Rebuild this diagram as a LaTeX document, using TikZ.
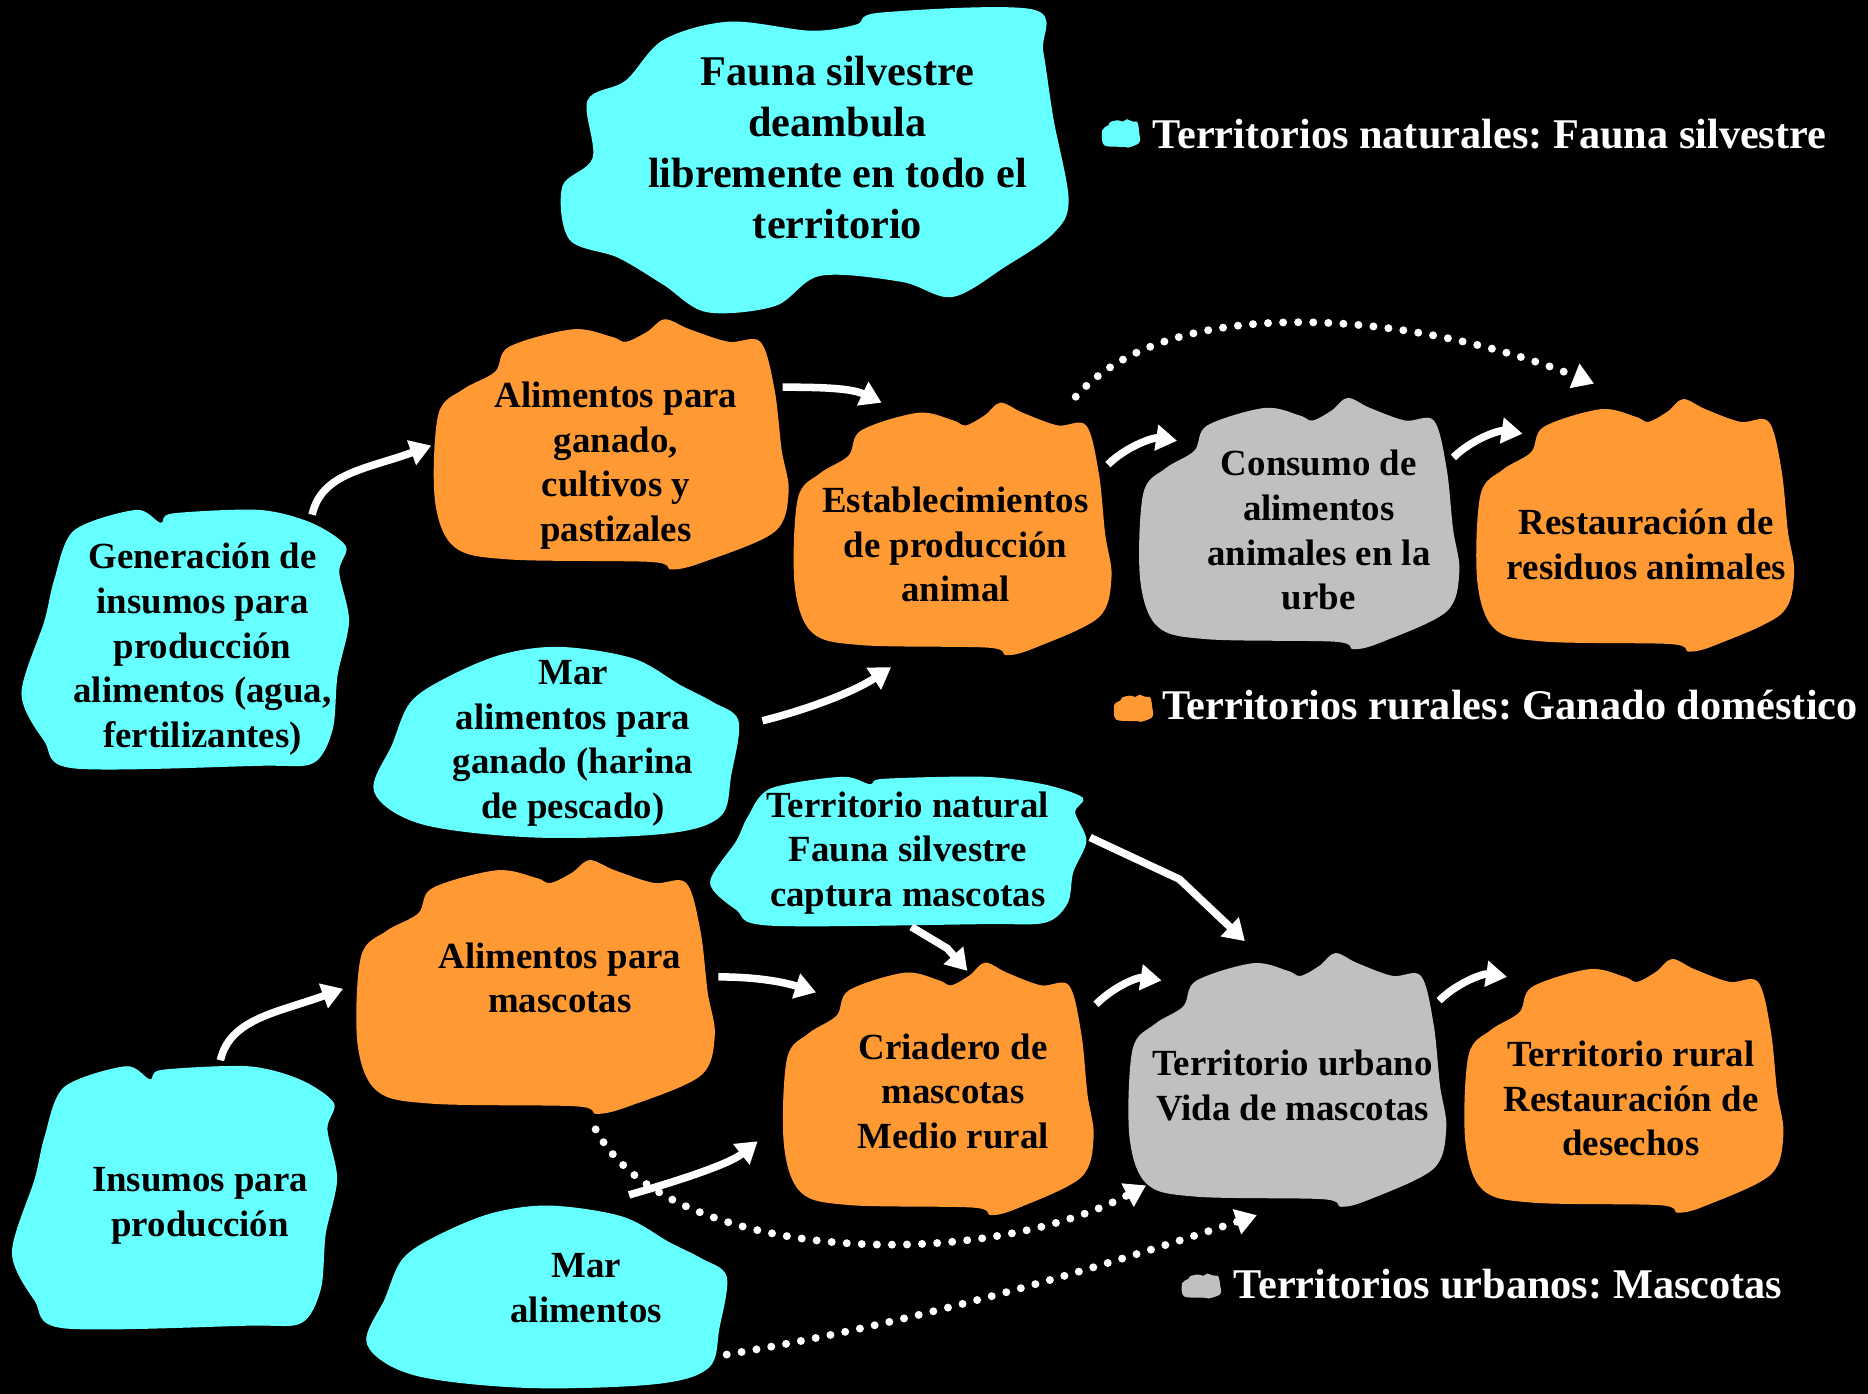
\documentclass[tikz,border=0pt]{standalone}
\usepackage{fontspec}
\setmainfont{Liberation Serif}
\usetikzlibrary{arrows.meta}
\definecolor{wildcyan}{RGB}{102,255,255}
\definecolor{ruralorange}{RGB}{255,153,51}
\definecolor{urbangray}{RGB}{192,192,192}
\frenchspacing

% Blob outlines in a unit box (y grows downwards)
\def\ruralshape{plot[smooth cycle,tension=0.55] coordinates {%
  (0.21,0.11) (0.39,0.04) (0.50,0.07) (0.54,0.09) (0.60,0.05) (0.65,0.00)
  (0.72,0.04) (0.83,0.09) (0.92,0.09) (0.96,0.28) (0.98,0.52) (1.00,0.69)
  (0.96,0.85) (0.76,0.97) (0.67,1.00) (0.61,0.97) (0.21,0.96) (0.055,0.91)
  (0.00,0.72) (0.01,0.38) (0.08,0.28) (0.17,0.21)}}
\def\wildshape{plot[smooth cycle,tension=0.55] coordinates {%
  (0.20,0.10) (0.33,0.04) (0.49,0.07) (0.58,0.05) (0.63,0.01) (0.93,0.00)
  (0.95,0.14) (0.97,0.36) (1.00,0.63) (0.97,0.74) (0.875,0.85) (0.77,0.95)
  (0.67,0.90) (0.51,0.88) (0.42,0.98) (0.285,1.00) (0.20,0.91) (0.11,0.82)
  (0.014,0.76) (0.00,0.585) (0.06,0.49) (0.05,0.30) (0.125,0.235)}}
\def\inputshape{plot[smooth cycle,tension=0.5] coordinates {%
  (0.16,0.08) (0.35,0.00) (0.425,0.05) (0.46,0.014) (0.725,0.00) (0.885,0.05)
  (0.99,0.14) (0.97,0.24) (1.00,0.43) (0.965,0.64) (0.95,0.85) (0.89,0.98)
  (0.725,0.99) (0.16,1.00) (0.07,0.895) (0.00,0.71) (0.07,0.43) (0.10,0.27)}}
\def\seashape{plot[smooth cycle,tension=0.55] coordinates {%
  (0.20,0.16) (0.35,0.04) (0.51,0.00) (0.71,0.06) (0.84,0.20) (0.93,0.29)
  (1.00,0.39) (0.98,0.67) (0.95,0.89) (0.80,0.98) (0.44,1.00) (0.13,0.93)
  (0.00,0.76) (0.05,0.51) (0.10,0.29)}}

% x, y (top left), width, height, colour, outline
\newcommand{\drawblob}[6]{%
  \begin{scope}[shift={(#1,#2)},xscale=#3,yscale=#4]
    \fill[#5] #6;
  \end{scope}}

\begin{document}
\begin{tikzpicture}[x=0.01cm, y=-0.01cm,
  lbl/.style={font=\fontsize{8.8}{10.65}\selectfont\bfseries, align=center, inner sep=0pt},
  biglbl/.style={lbl, font=\fontsize{10.1}{12.2}\selectfont\bfseries},
  legend/.style={biglbl, text=white, anchor=west},
  flow/.style={white, line width=1.8pt, -{Triangle[length=5pt,width=6pt]}},
  dots/.style={flow, line width=1.9pt, line cap=round, dash pattern=on 0pt off 3.6pt}]

  % Background
  \fill[black] (0,0) rectangle (1568,1170);
  \useasboundingbox (0,0) rectangle (1568,1170);

  % Natural territories
  \drawblob{472}{8}{425}{254}{wildcyan}{\wildshape}
  \drawblob{18}{428}{275}{217}{wildcyan}{\inputshape}
  \drawblob{314}{543}{306}{160}{wildcyan}{\seashape}
  \drawblob{596}{652}{316}{125}{wildcyan}{\inputshape}
  \drawblob{10}{895}{273}{220}{wildcyan}{\inputshape}
  \drawblob{308}{1012}{302}{153}{wildcyan}{\seashape}

  % Rural territories
  \drawblob{365}{268}{297}{210}{ruralorange}{\ruralshape}
  \drawblob{667}{338}{266}{212}{ruralorange}{\ruralshape}
  \drawblob{1240}{335}{266}{212}{ruralorange}{\ruralshape}
  \drawblob{300}{722}{300}{213}{ruralorange}{\ruralshape}
  \drawblob{658}{808}{260}{212}{ruralorange}{\ruralshape}
  \drawblob{1230}{805}{267}{213}{ruralorange}{\ruralshape}

  % Urban territories
  \drawblob{957}{334}{268}{211}{urbangray}{\ruralshape}
  \drawblob{948}{800}{266}{213}{urbangray}{\ruralshape}

  % Legend marks
  \drawblob{925}{100}{32}{24}{wildcyan}{\ruralshape}
  \drawblob{935}{583}{33}{23}{ruralorange}{\ruralshape}
  \drawblob{992}{1069}{33}{21}{urbangray}{\ruralshape}

  % Labels
  \node[biglbl] (fauna) at (703,124) {Fauna silvestre\\deambula\\libremente en todo el\\territorio};
  \node[legend] (legnat) at (967,113) {Territorios naturales: Fauna silvestre};
  \node[lbl] (alimg) at (517,391) {Alimentos para\\ganado,\\cultivos y\\pastizales};
  \node[lbl] (gen) at (170,545) {Generación de\\insumos para\\producción\\alimentos (agua,\\fertilizantes)};
  \node[lbl] (estab) at (802,457) {Establecimientos\\de producción\\animal};
  \node[lbl] (consumo) at (1107,445) {Consumo de\\alimentos\\animales en la\\urbe};
  \node[lbl] (resid) at (1382,457) {Restauración de\\residuos animales};
  \node[legend] (legrur) at (975,592) {Territorios rurales: Ganado doméstico};
  \node[lbl] (marg) at (481,624) {Mar\\alimentos para\\ganado (harina\\de pescado)};
  \node[lbl] (natural) at (762,716) {Territorio natural\\Fauna silvestre\\captura mascotas};
  \node[lbl] (alimm) at (470,821) {Alimentos para\\mascotas};
  \node[lbl] (criad) at (800,916) {Criadero de\\mascotas\\Medio rural};
  \node[lbl] (urbano) at (1085,911) {Territorio urbano\\Vida de mascotas};
  \node[lbl] (rural) at (1369,922) {Territorio rural\\Restauración de\\desechos};
  \node[lbl] (insumos) at (168,1012) {Insumos para\\producción};
  \node[lbl] (mar) at (492,1081) {Mar\\alimentos};
  \node[legend] (legurb) at (1035,1078) {Territorios urbanos: Mascotas};

  % Livestock chain
  \draw[flow] ([shift={(92,-113)}]gen.center) .. controls +(8,-35) and +(-55,20) .. ([shift={(-155,-17)}]alimg.center);
  \draw[flow] ([shift={(140,-66)}]alimg.center) .. controls +(35,0) and +(-25,-12) .. ([shift={(-62,-119)}]estab.center);
  \draw[flow] ([shift={(159,-19)}]marg.center) .. controls +(40,-10) and +(-30,20) .. ([shift={(-54,103)}]estab.center);
  \draw[flow] ([shift={(128,-67)}]estab.center) .. controls +(15,-15) and +(-20,-3) .. ([shift={(-119,-75)}]consumo.center);
  \draw[flow] ([shift={(113,-61)}]consumo.center) .. controls +(15,-15) and +(-20,-3) .. ([shift={(-104,-93)}]resid.center);
  \draw[dots] ([shift={(101,-124)}]estab.center) .. controls +(80,-90) and +(-150,-60) .. ([shift={(-44,-135)}]resid.center);

  % Pet chain
  \draw[flow] ([shift={(17,-122)}]insumos.center) .. controls +(8,-35) and +(-55,20) .. ([shift={(-182,9)}]alimm.center);
  \draw[flow] ([shift={(133,-1)}]alimm.center) .. controls +(35,0) and +(-25,-8) .. ([shift={(-115,-83)}]criad.center);
  \draw[flow] ([shift={(36,-78)}]mar.center) .. controls +(35,-10) and +(-25,20) .. ([shift={(-164,42)}]criad.center);
  \draw[flow] ([shift={(3,62)}]natural.center) -- ++(30,18) -- ([shift={(12,-101)}]criad.center);
  \draw[flow] ([shift={(153,-13)}]natural.center) -- ++(75,35) -- ([shift={(-40,-121)}]urbano.center);
  \draw[flow] ([shift={(120,-73)}]criad.center) .. controls +(15,-15) and +(-20,-3) .. ([shift={(-110,-88)}]urbano.center);
  \draw[flow] ([shift={(123,-71)}]urbano.center) .. controls +(15,-15) and +(-20,-3) .. ([shift={(-104,-102)}]rural.center);
  \draw[dots] ([shift={(30,127)}]alimm.center) .. controls +(60,112) and +(-142,75) .. ([shift={(-123,84)}]urbano.center);
  \draw[dots] ([shift={(118,56)}]mar.center) .. controls +(150,-25) and +(-150,50) .. ([shift={(-30,109)}]urbano.center);
\end{tikzpicture}
\end{document}
